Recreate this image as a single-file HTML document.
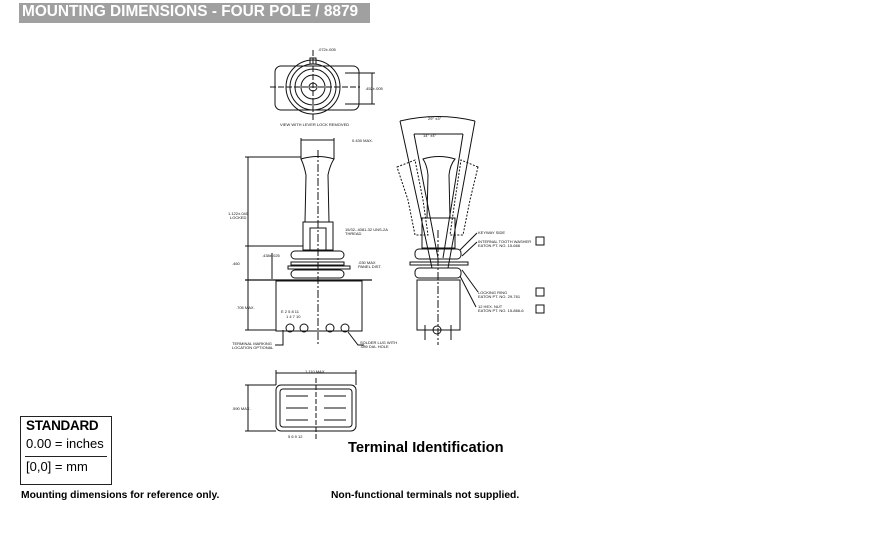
<!DOCTYPE html>
<html><head><meta charset="utf-8"><style>
html,body{margin:0;padding:0;background:#fff;}
body{width:869px;height:535px;position:relative;overflow:hidden;font-family:"Liberation Sans",Arial,sans-serif;}
.t{position:absolute;white-space:nowrap;}
</style></head><body>
<div style="position:absolute;left:19px;top:3px;width:351px;height:20px;background:#a0a0a0;"></div>
<div class="t" style="left:22px;top:3px;font-size:15.4px;font-weight:bold;color:#fff;">MOUNTING DIMENSIONS - FOUR POLE / 8879</div>

<div style="position:absolute;left:20px;top:416px;width:90px;height:67px;border:1px solid #222;"></div>
<div class="t" style="left:26px;top:418px;font-size:13.5px;font-weight:bold;letter-spacing:-0.3px;">STANDARD</div>
<div class="t" style="left:26px;top:436px;font-size:13px;">0.00 = inches</div>
<div style="position:absolute;left:25px;top:456px;width:82px;height:1px;background:#222;"></div>
<div class="t" style="left:26px;top:459px;font-size:13px;">[0,0] = mm</div>
<div class="t" style="left:21px;top:490px;font-size:10.3px;font-weight:bold;">Mounting dimensions for reference only.</div>
<div class="t" style="left:331px;top:490px;font-size:10.3px;font-weight:bold;">Non-functional terminals not supplied.</div>
<div class="t" style="left:348px;top:440px;font-size:14.7px;font-weight:bold;">Terminal Identification</div>

<svg width="869" height="535" style="position:absolute;left:0;top:0" fill="none" stroke="#111" stroke-width="1" font-family="Liberation Sans" font-size="4">
<!-- top view -->
<rect x="275" y="66" width="84" height="44" rx="6"/>
<circle cx="313" cy="87" r="27"/><circle cx="313" cy="87" r="23"/><circle cx="313" cy="87" r="18"/><circle cx="313" cy="87" r="12"/><circle cx="313" cy="87" r="4"/>
<rect x="310" y="58" width="6" height="6"/>
<line x1="270" y1="87" x2="360" y2="87" stroke-dasharray="6 2"/>
<line x1="313" y1="50" x2="313" y2="120" stroke-dasharray="6 2"/>
<line x1="345" y1="73" x2="375" y2="73"/><line x1="345" y1="104" x2="375" y2="104"/><line x1="372" y1="73" x2="372" y2="104"/>
<text x="318" y="51" fill="#111" stroke="none">.072±.005</text>
<text x="365" y="90" fill="#111" stroke="none">.452±.005</text>
<text x="280" y="126" fill="#111" stroke="none">VIEW WITH LEVER LOCK REMOVED</text>
<!-- side view -->
<path d="M301,159 Q318,154 334,159 Q330,165 328,175 L329,222 L305,222 L306,175 Q304,165 301,159Z"/>
<line x1="301" y1="138" x2="301" y2="159"/><line x1="334" y1="138" x2="334" y2="159"/>
<line x1="301" y1="140" x2="334" y2="140"/>
<text x="352" y="142" fill="#111" stroke="none">0.430 MAX.</text>
<rect x="303" y="222" width="30" height="28"/><rect x="310" y="228" width="16" height="22"/>
<rect x="291" y="251" width="53" height="8" rx="4"/><rect x="291" y="262" width="53" height="3"/><rect x="288" y="266" width="62" height="3"/><rect x="291" y="270" width="53" height="8" rx="4"/>
<line x1="245" y1="280" x2="372" y2="280" stroke-width="1.3"/>
<rect x="276" y="281" width="86" height="50"/>
<line x1="318" y1="150" x2="318" y2="345" stroke-dasharray="8 2 2 2"/>
<line x1="245" y1="157" x2="301" y2="157"/><line x1="248" y1="157" x2="248" y2="330"/><line x1="245" y1="330" x2="276" y2="330"/><line x1="245" y1="246" x2="303" y2="246"/>
<line x1="272" y1="253" x2="272" y2="279"/>
<text x="228" y="215" fill="#111" stroke="none">1.122±.040</text><text x="230" y="219" fill="#111" stroke="none">LOCKED</text>
<text x="232" y="265" fill="#111" stroke="none">.460</text><text x="262" y="257" fill="#111" stroke="none">.438±.025</text>
<text x="236" y="309" fill="#111" stroke="none">.705 MAX.</text>
<text x="345" y="231" fill="#111" stroke="none">15/32-.4081-32 UNS-2A</text><text x="345" y="235" fill="#111" stroke="none">THREAD</text>
<text x="358" y="264" fill="#111" stroke="none">.030 MAX</text><text x="358" y="268" fill="#111" stroke="none">PANEL DIST.</text>
<text x="281" y="313" fill="#111" stroke="none">E 2  5      8  11</text><text x="286" y="318" fill="#111" stroke="none">1  4       7  10</text>
<circle cx="290" cy="328" r="4"/><circle cx="304" cy="328" r="4"/><circle cx="330" cy="328" r="4"/><circle cx="345" cy="328" r="4"/>
<path d="M283,330 L283,345 L275,345"/><path d="M348,332 L358,345 L364,345"/>
<text x="232" y="345" fill="#111" stroke="none">TERMINAL MARKING</text><text x="232" y="349" fill="#111" stroke="none">LOCATION OPTIONAL</text>
<text x="360" y="344" fill="#111" stroke="none">SOLDER LUG WITH</text><text x="360" y="348" fill="#111" stroke="none">.089 DIA. HOLE</text>
<!-- right view -->
<path d="M400,121 L432,268 M475,121 L448,268 M414,134 L438,258 M463,134 L443,258"/>
<path d="M400,121 Q438,112 475,121"/><line x1="414" y1="134" x2="463" y2="134"/>
<text x="428" y="120" fill="#111" stroke="none">29° ±3°</text><text x="423" y="137" fill="#111" stroke="none">14° ±4°</text>
<path d="M423,159 Q439,154 455,159 Q450,165 449,175 L450,218 L427,218 L428,175 Q427,165 423,159Z"/>
<path d="M397,167 L415,160 L423,200 L428,235 L415,235 L408,200Z" stroke-dasharray="2 1.5"/>
<path d="M478,167 L461,160 L455,200 L450,235 L463,235 L470,200Z" stroke-dasharray="2 1.5"/>
<rect x="422" y="218" width="33" height="30"/>
<rect x="415" y="249" width="46" height="10" rx="4"/><rect x="410" y="262" width="58" height="3"/><rect x="415" y="268" width="46" height="10" rx="4"/>
<rect x="417" y="280" width="43" height="50"/>
<line x1="438" y1="230" x2="438" y2="345" stroke-dasharray="8 2 2 2"/>
<circle cx="437" cy="330" r="4"/><line x1="425" y1="325" x2="425" y2="340"/><line x1="451" y1="325" x2="451" y2="340"/>
<path d="M460,250 L477,233 M462,256 L477,242 M462,270 L478,292 M460,276 L476,307"/>
<text x="478" y="234" fill="#111" stroke="none">KEYWAY SIDE</text>
<text x="478" y="243" fill="#111" stroke="none">INTERNAL TOOTH WASHER</text><text x="478" y="247" fill="#111" stroke="none">EATON PT. NO. 15-666</text>
<text x="478" y="294" fill="#111" stroke="none">LOCKING RING</text><text x="478" y="298" fill="#111" stroke="none">EATON PT. NO. 29-761</text>
<text x="478" y="308" fill="#111" stroke="none">12 HEX. NUT</text><text x="478" y="312" fill="#111" stroke="none">EATON PT. NO. 15-866-6</text>
<rect x="536" y="237" width="8" height="8"/><rect x="536" y="288" width="8" height="8"/><rect x="536" y="305" width="8" height="8"/>
<!-- bottom view -->
<rect x="276" y="385" width="80" height="46" rx="5"/><rect x="280" y="389" width="72" height="38" rx="3"/>
<line x1="276" y1="370" x2="276" y2="385"/><line x1="356" y1="370" x2="356" y2="385"/><line x1="276" y1="373" x2="356" y2="373"/>
<text x="305" y="373" fill="#111" stroke="none">1.110 MAX.</text>
<line x1="245" y1="385" x2="276" y2="385"/><line x1="245" y1="431" x2="276" y2="431"/><line x1="248" y1="385" x2="248" y2="431"/>
<text x="232" y="410" fill="#111" stroke="none">.590 MAX.</text>
<line x1="316" y1="378" x2="316" y2="440" stroke-dasharray="5 2"/>
<line x1="286" y1="396" x2="308" y2="396"/><line x1="286" y1="408" x2="308" y2="408"/><line x1="286" y1="420" x2="308" y2="420"/>
<line x1="324" y1="396" x2="346" y2="396"/><line x1="324" y1="408" x2="346" y2="408"/><line x1="324" y1="420" x2="346" y2="420"/>
<text x="288" y="438" fill="#111" stroke="none">5      6         9    12</text>
</svg>
</body></html>
